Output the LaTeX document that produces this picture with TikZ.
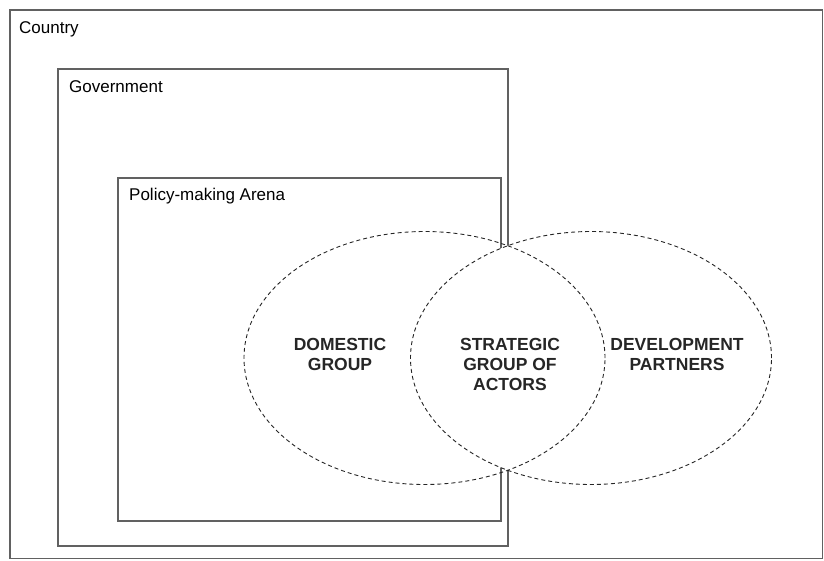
\documentclass[tikz,border=0pt]{standalone}
\usepackage{fontspec}
\setmainfont{Liberation Sans}
\usetikzlibrary{shapes.geometric}

\tikzset{
  box/.style={draw=black!62, line width=1.3pt},
  boxname/.style={anchor=base west, inner sep=0pt, font=\fontsize{17}{20}\selectfont},
  group/.style={ellipse, draw=black!85, line width=0.9pt, dash pattern=on 4pt off 3pt,
    minimum width=361pt, minimum height=253pt, inner sep=0pt},
  label/.style={anchor=north, inner sep=0pt, align=center,
    font=\bfseries\fontsize{17.5}{20}\selectfont, text=black!85}
}

\begin{document}
\begin{tikzpicture}[x=1pt, y=-1pt]
	\useasboundingbox (0,0) rectangle (824,560);

	% nested boxes
	\draw[box] (10,10) rectangle (822.5,558.5);
	\draw[box] (58,69) rectangle (508,546);
	\draw[box] (118,178) rectangle (501,521);

	\node[boxname] (country) at (19,33) {Country};
	\node[boxname] (government) at (69,92) {Government};
	\node[boxname] (arena) at (129,200) {Policy-making Arena};

	% the two groups
	\node[group, fill=white] (partners) at (591,358) {};
	\node[group] (domestic) at (424.5,358) {};

	\node[label] (domtext) at (340,338.5) {DOMESTIC\\GROUP};
	\node[label] (strattext) at (510,338.5) {STRATEGIC\\GROUP OF\\ACTORS};
	\node[label] (devtext) at (677,338.5) {DEVELOPMENT\\PARTNERS};
\end{tikzpicture}
\end{document}
